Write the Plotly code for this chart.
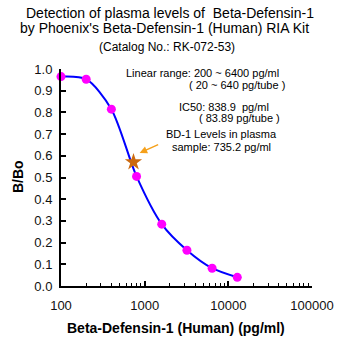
import plotly.graph_objects as go

conc = [100, 200, 400, 800, 1600, 3200, 6400, 12800]
bbo = [0.965, 0.953, 0.815, 0.505, 0.285, 0.165, 0.082, 0.040]
sample_conc = [735.2]
sample_bbo = [0.571]
xticks = [100, 1000, 10000, 100000]
yticks = [0.0, 0.1, 0.2, 0.3, 0.4, 0.5, 0.6, 0.7, 0.8, 0.9, 1.0]

FONT = "Liberation Sans, Arial, sans-serif"
L, R, T, B = 61, 38, 69, 64

fig = go.Figure()
fig.add_trace(go.Scatter(x=conc, y=bbo, mode="lines", line=dict(color="#0000ff", width=2, shape="spline", smoothing=0.8),
                         hoverinfo="skip", cliponaxis=False))
fig.add_trace(go.Scatter(x=conc, y=bbo, mode="markers", marker=dict(color="#ff00ff", size=9, symbol="circle"),
                         cliponaxis=False))
fig.add_trace(go.Scatter(x=sample_conc, y=sample_bbo, mode="markers",
                         marker=dict(color="#cc6a10", size=13, symbol="star", line=dict(width=0)), cliponaxis=False))

fig.update_xaxes(type="log", range=[2, 5], tickvals=xticks, ticktext=[str(v) for v in xticks],
                 ticks="inside", ticklen=5, tickwidth=2, tickcolor="black", ticklabelstandoff=6,
                 minor=dict(ticks="inside", ticklen=3, tickwidth=1, tickcolor="black", dtick="D1"),
                 showline=True, linecolor="black", linewidth=2, showgrid=False, zeroline=False,
                 tickfont=dict(family=FONT, size=13, color="#111"))
fig.update_yaxes(range=[0, 1.0], tickvals=yticks, ticktext=[f"{v:.1f}" for v in yticks],
                 ticks="inside", ticklen=5, tickwidth=2, tickcolor="black", ticklabelstandoff=4,
                 showline=True, linecolor="black", linewidth=2, showgrid=False, zeroline=False,
                 tickfont=dict(family=FONT, size=13, color="#111"))


def px_ann(x, y, text, size, anchor="center", angle=0):
    # place text at pixel coordinates of the 350x350 page
    w, h = 350 - L - R, 350 - T - B
    fig.add_annotation(xref="paper", yref="paper", x=(x - L)/w, y=1 - (y - T)/h,
                       xanchor=anchor, yanchor="middle", showarrow=False, text=text, textangle=angle,
                       font=dict(family=FONT, size=size, color="black"))

px_ann(170, 13, "Detection of plasma levels of  Beta-Defensin-1", 14)
px_ann(164, 28, "by Phoenix's Beta-Defensin-1 (Human) RIA Kit", 14)
px_ann(167, 47, "(Catalog No.: RK-072-53)", 12)
px_ann(124, 73, "Linear range: 200 ~ 6400 pg/ml", 11, "left")
px_ann(187, 85, "( 20 ~ 640 pg/tube )", 11, "left")
px_ann(177, 107, "IC50: 838.9  pg/ml", 11, "left")
px_ann(197, 118, "( 83.89 pg/tube )", 11, "left")
px_ann(164, 134, "BD-1 Levels in plasma", 11, "left")
px_ann(170, 147, "sample: 735.2 pg/ml", 11, "left")
px_ann(176, 328, "<b>Beta-Defensin-1 (Human) (pg/ml)</b>", 14)
px_ann(18, 177, "<b>B/Bo</b>", 14, "center", -90)

fig.add_annotation(x=2.94, y=0.613, ax=20, ay=-9, xref="x", yref="y",
                   showarrow=True, arrowhead=2, arrowsize=1, arrowwidth=1.5, arrowcolor="#f5a01a", text="")

fig.update_layout(width=350, height=350, margin=dict(l=L, r=R, t=T, b=B),
                  plot_bgcolor="white", paper_bgcolor="white", showlegend=False)
fig.write_html("out.html")
